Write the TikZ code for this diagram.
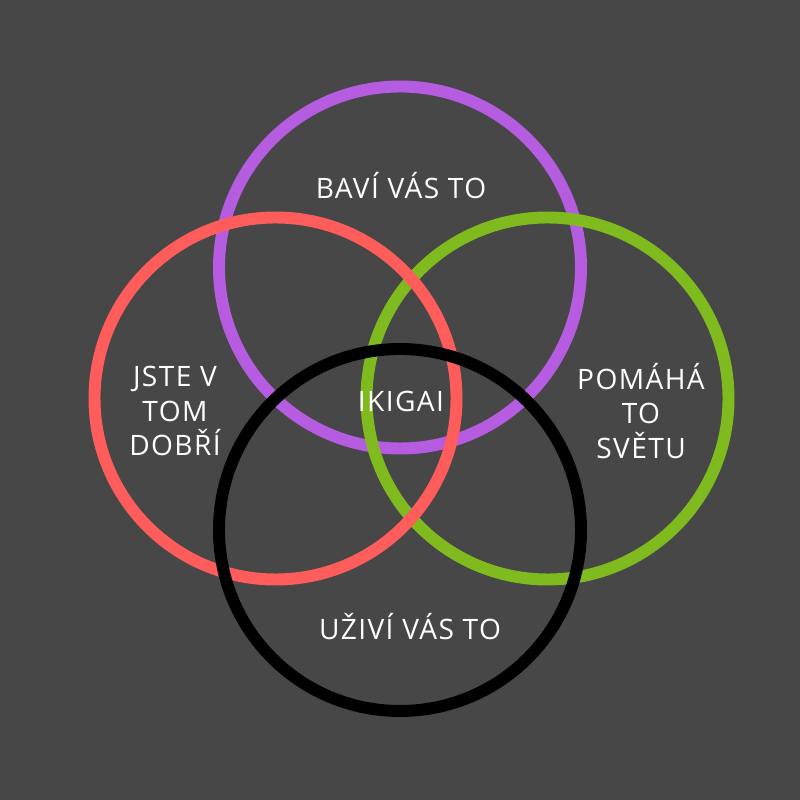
\documentclass[tikz,border=0pt]{standalone}
\usepackage{fontspec}
\setmainfont{Open Sans}[LetterSpace=5]
\usepackage{tikz}
\usetikzlibrary{positioning}
\definecolor{board}{HTML}{474747}
\definecolor{joy}{HTML}{B65CE0}
\definecolor{skill}{HTML}{FF5C5C}
\definecolor{world}{HTML}{7FBA1E}
\definecolor{money}{HTML}{000000}

\begin{document}
\begin{tikzpicture}[
    ring/.style={line width=3.4pt},
    label/.style={text=white,font=\fontsize{8}{9.7}\selectfont,align=center,inner sep=0pt}
  ]
        \fill[board] (0,0) rectangle (8,8);
        \useasboundingbox (0,0) rectangle (8,8);
        % the four circles
        \foreach \c/\x/\y in {joy/4.00/5.325,world/5.475/4.015,skill/2.755/4.015,money/4.00/2.70}{
          \draw[ring,\c] (\x,\y) circle[radius=1.81];
        }
        % texts
        \node[label] (baviVas) at (4.01,6.14) {BAVÍ VÁS TO};
        \node[label] (jsteDobri) at (1.75,3.89) {JSTE V\\TOM\\DOBŘÍ};
        \node[label] (pomahaSvetu) at (6.41,3.89) {POMÁHÁ\\TO\\SVĚTU};
        \node[label] (ikigai) at (4.01,3.99) {IKIGAI};
        \node[label] (uziviVas) at (4.10,1.73) {UŽIVÍ VÁS TO};
      \end{tikzpicture}
\end{document}
